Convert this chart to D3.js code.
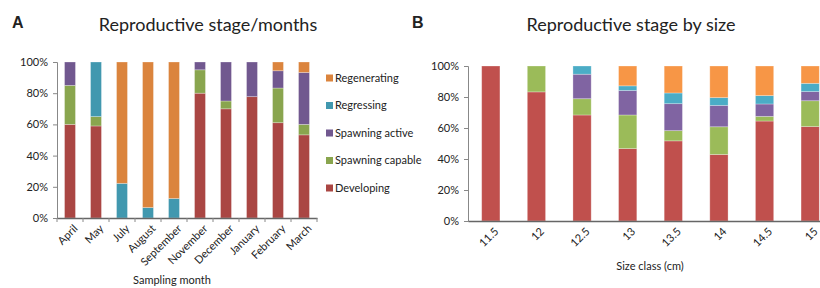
<!DOCTYPE html>
<html>
<head>
<meta charset="utf-8">
<script src="https://cdn.jsdelivr.net/npm/d3@7"></script>
<style>
  body { margin: 0; background: #fff; }
  svg text { font-family: Lato, "Noto Sans", sans-serif; fill: #222; }
</style>
</head>
<body>
<div id="chart"></div>
<script>
// stages, bottom to top
var stages = ["Developing", "Spawning capable", "Spawning active", "Regressing", "Regenerating"];

// panel A: percent of each stage per sampling month
var months = ["April", "May", "July", "August", "September", "November", "December", "January", "February", "March"];
var monthDeveloping = [60, 59, 0, 0, 0, 80, 70, 77.8, 61.1, 53.3];
var monthCapable    = [25, 6, 0, 0, 0, 15, 5, 0, 22.2, 6.7];
var monthActive     = [15, 0, 0, 0, 0, 5, 25, 22.2, 11.1, 33.3];
var monthRegressing = [0, 35, 22.2, 6.7, 12.5, 0, 0, 0, 0, 0];
var monthRegen      = [0, 0, 77.8, 93.3, 87.5, 0, 0, 0, 5.6, 6.7];

// panel B: percent of each stage per size class
var sizes = ["11.5", "12", "12.5", "13", "13.5", "14", "14.5", "15"];
var sizeDeveloping = [100, 83.3, 68.4, 46.7, 51.7, 42.9, 64.5, 60.9];
var sizeCapable    = [0, 16.7, 10.5, 21.7, 6.6, 17.9, 3, 16.7];
var sizeActive     = [0, 0, 15.8, 15.8, 17.4, 13.8, 8, 5.9];
var sizeRegressing = [0, 0, 5.3, 3, 6.9, 5, 5.4, 5.3];
var sizeRegen      = [0, 0, 0, 12.8, 17.4, 20.4, 19.1, 11.2];

var yTicks = [0, 20, 40, 60, 80, 100];

var colorsA = ["#AA4643", "#89A54E", "#71588F", "#4198AF", "#DB843D"];
var colorsB = ["#C0504D", "#9BBB59", "#8064A2", "#4BACC6", "#F79646"];

var svg = d3.select("#chart")
  .append("svg")
    .attr("width", 820)
    .attr("height", 288);

function buildRows(cats, cols) {
  return cats.map(function(c, i) {
    var row = {cat: c};
    stages.forEach(function(s, k) { row[s] = cols[k][i]; });
    return row;
  });
}

function drawPanel(opt) {
  var g = svg.append("g");
  var rows = buildRows(opt.cats, opt.cols);

  var x = d3.scaleBand()
      .domain(opt.cats)
      .range([opt.left, opt.right])
      .paddingInner(opt.pad)
      .paddingOuter(opt.pad / 2);

  var y = d3.scaleLinear()
      .domain([0, 100])
      .range([opt.bottom, opt.top]);

  var color = d3.scaleOrdinal()
      .domain(stages)
      .range(opt.colors);

  var stacked = d3.stack().keys(stages)(rows);

  g.append("g")
    .selectAll("g")
    .data(stacked)
    .enter().append("g")
      .attr("fill", function(d) { return color(d.key); })
    .selectAll("rect")
    .data(function(d) { return d; })
    .enter().append("rect")
      .attr("x", function(d) { return x(d.data.cat); })
      .attr("y", function(d) { return y(d[1]); })
      .attr("height", function(d) { return y(d[0]) - y(d[1]); })
      .attr("width", x.bandwidth())
      .attr("stroke", "rgba(255,255,255,0.35)")
      .attr("stroke-width", 0.8);

  // y axis
  var ya = g.append("g")
      .attr("transform", "translate(" + opt.left + ",0)")
      .call(d3.axisLeft(y).tickValues(yTicks).tickSize(4).tickPadding(5)
        .tickFormat(function(d) { return d + "%"; }));
  ya.select(".domain").attr("stroke", "#888");
  ya.selectAll(".tick line").attr("stroke", "#888");
  ya.selectAll("text").style("font-size", "11px").attr("fill", "#222");

  // x axis
  var xa = g.append("g")
      .attr("transform", "translate(0," + opt.bottom + ")")
      .call(d3.axisBottom(x).tickSize(0).tickSizeOuter(0));
  xa.select(".domain").attr("stroke", "#666").attr("stroke-width", 1.3);
  xa.selectAll("text")
      .style("font-size", "11px")
      .attr("fill", "#222")
      .style("text-anchor", "end")
      .attr("dx", "0.2em")
      .attr("dy", "0.6em")
      .attr("transform", "translate(0,6) rotate(-45)");

  if (opt.boundaryTicks) {
    var step = x.step();
    var edges = d3.range(opt.cats.length + 1).map(function(i) { return opt.left + i * step; });
    g.append("g")
      .selectAll("line")
      .data(edges)
      .enter().append("line")
        .attr("x1", function(d) { return d; })
        .attr("x2", function(d) { return d; })
        .attr("y1", opt.bottom)
        .attr("y2", opt.bottom + 4)
        .attr("stroke", "#888");
  }

  // titles
  g.append("text")
      .attr("x", opt.titleX)
      .attr("y", 31)
      .attr("text-anchor", "middle")
      .style("font-size", "18px")
      .text(opt.title);

  g.append("text")
      .attr("x", opt.letterX)
      .attr("y", 28)
      .style("font-family", "'Liberation Sans', Arial, sans-serif")
      .style("font-weight", "bold")
      .style("font-size", "16px")
      .attr("fill", "#000")
      .text(opt.letter);

  g.append("text")
      .attr("x", opt.xLabelX)
      .attr("y", opt.xLabelY)
      .attr("text-anchor", "middle")
      .style("font-size", "11px")
      .text(opt.xLabel);

  return color;
}

var colorA = drawPanel({
  cats: months,
  cols: [monthDeveloping, monthCapable, monthActive, monthRegressing, monthRegen],
  colors: colorsA,
  left: 57, right: 317, top: 62, bottom: 218,
  pad: 0.58,
  boundaryTicks: true,
  title: "Reproductive stage/months", titleX: 208,
  letter: "A", letterX: 12,
  xLabel: "Sampling month", xLabelX: 172, xLabelY: 284
});

drawPanel({
  cats: sizes,
  cols: [sizeDeveloping, sizeCapable, sizeActive, sizeRegressing, sizeRegen],
  colors: colorsB,
  left: 468, right: 833, top: 66, bottom: 221,
  pad: 0.6,
  boundaryTicks: false,
  title: "Reproductive stage by size", titleX: 631,
  letter: "B", letterX: 412,
  xLabel: "Size class (cm)", xLabelX: 650, xLabelY: 270
});

// legend for panel A (top to bottom is reverse stack order)
var legendItems = stages.slice().reverse();
var legend = svg.append("g")
  .selectAll("g")
  .data(legendItems)
  .enter().append("g")
    .attr("transform", function(d, i) { return "translate(326," + (78 + i * 27.5) + ")"; });

legend.append("rect")
    .attr("x", 0)
    .attr("y", -3.5)
    .attr("width", 7)
    .attr("height", 7)
    .attr("fill", function(d) { return colorA(d); });

legend.append("text")
    .attr("x", 9)
    .attr("y", 0)
    .attr("dy", "0.35em")
    .style("font-size", "11px")
    .text(function(d) { return d; });
</script>
</body>
</html>
